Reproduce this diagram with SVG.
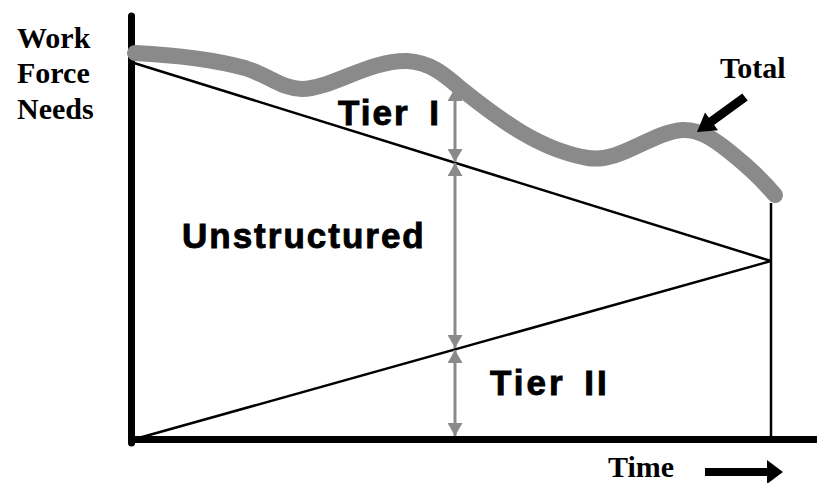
<svg xmlns="http://www.w3.org/2000/svg" width="817" height="483" viewBox="0 0 817 483">
  <style>
    .serif { font-family: "Liberation Serif", "Times New Roman", serif; font-weight: bold; font-size: 30px; fill: #000; }
    .sans { font-family: "Liberation Sans", Arial, sans-serif; font-weight: bold; font-size: 35px; fill: #000; stroke: #000; stroke-width: 0.9; letter-spacing: 2px; }
    .thin { stroke: #000; stroke-width: 2.5; fill: none; }
    .gap { stroke: #8a8a8a; stroke-width: 3; fill: none; marker-start: url(#gh); marker-end: url(#gh); }
  </style>
  <defs>
    <marker id="gh" viewBox="0 0 13 15" refX="13" refY="7.5" markerWidth="13" markerHeight="15" markerUnits="userSpaceOnUse" orient="auto-start-reverse">
      <path d="M0,0 L13,7.5 L0,15 Z" fill="#8a8a8a"/>
    </marker>
  </defs>
  <rect width="817" height="483" fill="#fff"/>

  <g id="axes">
    <line x1="131.5" y1="16" x2="131.5" y2="443" stroke="#000" stroke-width="7" stroke-linecap="round"/>
    <line x1="128" y1="439.5" x2="817" y2="439.5" stroke="#000" stroke-width="7"/>
  </g>

  <g id="boundaries">
    <line class="thin" x1="134" y1="63" x2="771" y2="261"/>
    <line class="thin" x1="135" y1="439" x2="771" y2="261"/>
    <line class="thin" x1="771" y1="203" x2="771" y2="439"/>
  </g>

  <g id="total-curve">
    <path d="M135,53 C175,55 215,60 245,68 C270,76 283,89 302,89 C330,89 370,60 407,61 C430,62 445,75 460,88 C500,120 540,150 588,158 C620,163 650,133 682,130 C700,129 715,140 730,152 C750,168 765,183 775,195" fill="none" stroke="#8a8a8a" stroke-width="16" stroke-linecap="round"/>
  </g>

  <g id="connectors">
    <line class="gap" x1="455" y1="88" x2="455" y2="162"/>
    <line class="gap" x1="455" y1="163" x2="455" y2="348"/>
    <line class="gap" x1="455" y1="350" x2="455" y2="436"/>
    <polygon id="total-arrow" points="697,132 718,130.3 714.1,125 747.7,100.6 742.3,93.4 708.9,117.8 705,112.5" fill="#000"/>
    <polygon id="time-arrow" points="705,468 767,468 767,460 783,472 767,484 767,476 705,476" fill="#000"/>
  </g>

  <g id="label-y">
    <text class="serif" x="17" y="48">Work</text>
    <text class="serif" x="17" y="83">Force</text>
    <text class="serif" x="17" y="119">Needs</text>
  </g>
  <g id="label-total"><text class="serif" x="720" y="78">Total</text></g>
  <g id="label-time"><text class="serif" x="608" y="477">Time</text></g>
  <g id="tier1"><text class="sans" x="338" y="125" word-spacing="8">Tier I</text></g>
  <g id="unstructured"><text class="sans" x="182" y="248">Unstructured</text></g>
  <g id="tier2"><text class="sans" x="490" y="395" word-spacing="6" style="letter-spacing:3px">Tier II</text></g>
</svg>
